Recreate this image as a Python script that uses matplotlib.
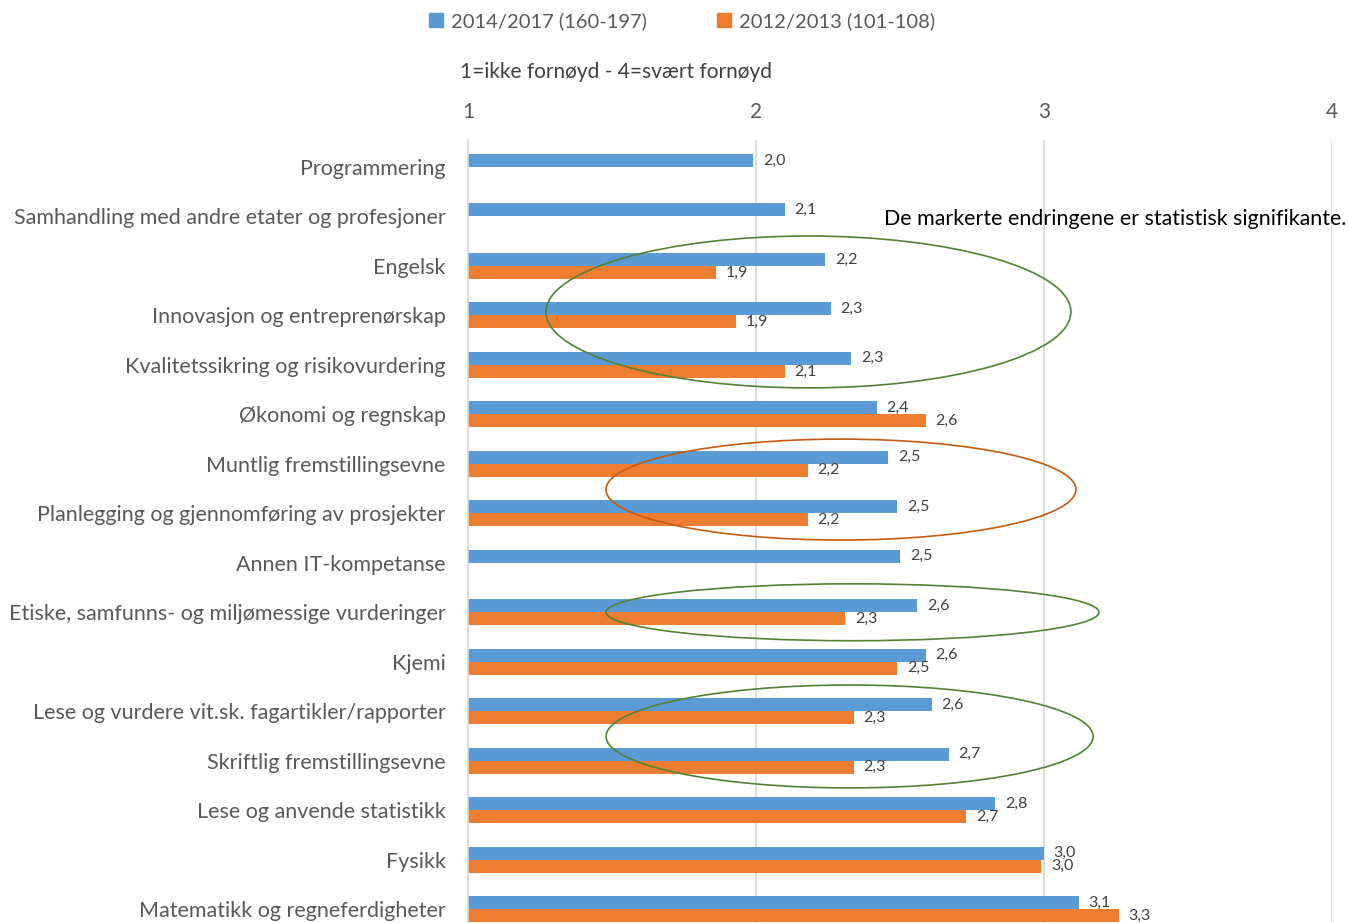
import numpy as np
import matplotlib
matplotlib.use("Agg")
import matplotlib.pyplot as plt
from matplotlib.patches import Ellipse, Patch

plt.rcParams['font.family'] = ['Lato', 'DejaVu Sans']

# data
kategorier = ["Programmering",
              "Samhandling med andre etater og profesjoner",
              "Engelsk",
              "Innovasjon og entreprenørskap",
              "Kvalitetssikring og risikovurdering",
              "Økonomi og regnskap",
              "Muntlig fremstillingsevne",
              "Planlegging og gjennomføring av prosjekter",
              "Annen IT-kompetanse",
              "Etiske, samfunns- og miljømessige vurderinger",
              "Kjemi",
              "Lese og vurdere vit.sk. fagartikler/rapporter",
              "Skriftlig fremstillingsevne",
              "Lese og anvende statistikk",
              "Fysikk",
              "Matematikk og regneferdigheter"]
v2014 = [1.99, 2.10, 2.24, 2.26, 2.33, 2.42, 2.46, 2.49, 2.50, 2.56,
         2.59, 2.61, 2.67, 2.83, 3.00, 3.12]
v2012 = [np.nan, np.nan, 1.86, 1.93, 2.10, 2.59, 2.18, 2.18, np.nan, 2.31,
         2.49, 2.34, 2.34, 2.73, 2.99, 3.26]
navn2014 = "2014/2017 (160-197)"
navn2012 = "2012/2013 (101-108)"
xticks = [1, 2, 3, 4]

blaa = "#5B9BD5"
oransje = "#ED7D31"
groenn = "#548235"
brun = "#C55A11"

fig = plt.figure(figsize=(13.48, 9.23), dpi=100)
ax = fig.add_axes([0.3472, 0.0, 0.6409, 0.8483])

y = np.arange(len(kategorier))
h = 0.263
off = 0.132
ax.barh(y - off, v2014, height=h, color=blaa, label=navn2014)
ax.barh(y + off, v2012, height=h, color=oransje, label=navn2012)

def etiketter(verdier, ypos):
    for v, yy in zip(verdier, ypos):
        if np.isnan(v):
            continue
        ax.annotate(("%.1f" % v).replace(".", ","), (v, yy), xytext=(7, 0),
                    textcoords="offset points", ha="left", va="center",
                    fontsize=11.5, color="#404040")

etiketter(v2014, y - off)
etiketter(v2012, y + off)

ax.set_xlim(1, 4)
ax.set_ylim(15.28, -0.545)
ax.set_xticks(xticks)
ax.set_xticklabels([str(t) for t in xticks])
ax.xaxis.tick_top()
ax.tick_params(axis="x", length=0, pad=13, labelsize=15, labelcolor="#595959")
ax.set_yticks(y)
ax.set_yticklabels(kategorier)
ax.tick_params(axis="y", length=0, pad=16, labelsize=15.5, labelcolor="#595959")
ax.grid(axis="x", color="#d9d9d9", lw=1.2)
ax.set_axisbelow(True)
for s in ["top", "right", "bottom"]:
    ax.spines[s].set_visible(False)
ax.spines["left"].set_color("#d9d9d9")
ax.spines["left"].set_linewidth(1.2)

# ellipser rundt signifikante endringer
for (cx, cy, w, hh, c) in [(2.182, 2.93, 1.823, 3.07, groenn),
                           (2.295, 6.52, 1.632, 2.04, brun),
                           (2.335, 9.0, 1.712, 1.15, groenn),
                           (2.325, 11.51, 1.691, 2.08, groenn)]:
    ax.add_patch(Ellipse((cx, cy), w, hh, fill=False, edgecolor=c, lw=1.2,
                         clip_on=False, zorder=5))

fig.text(0.6558, 0.7627, "De markerte endringene er statistisk signifikante.",
         fontsize=15.4, color="black", va="center", ha="left")
fig.text(0.341, 0.922, "1=ikke fornøyd - 4=svært fornøyd",
         fontsize=15, color="#404040", va="center", ha="left")

fig.legend(handles=[Patch(color=blaa, label=navn2014),
                    Patch(color=oransje, label=navn2012)],
           loc="center", bbox_to_anchor=(0.506, 0.977), ncol=2, frameon=False,
           fontsize=14.5, labelcolor="#595959", handlelength=0.7,
           handleheight=0.7, handletextpad=0.4, columnspacing=3.5)

fig.savefig("out.png", dpi=100)
